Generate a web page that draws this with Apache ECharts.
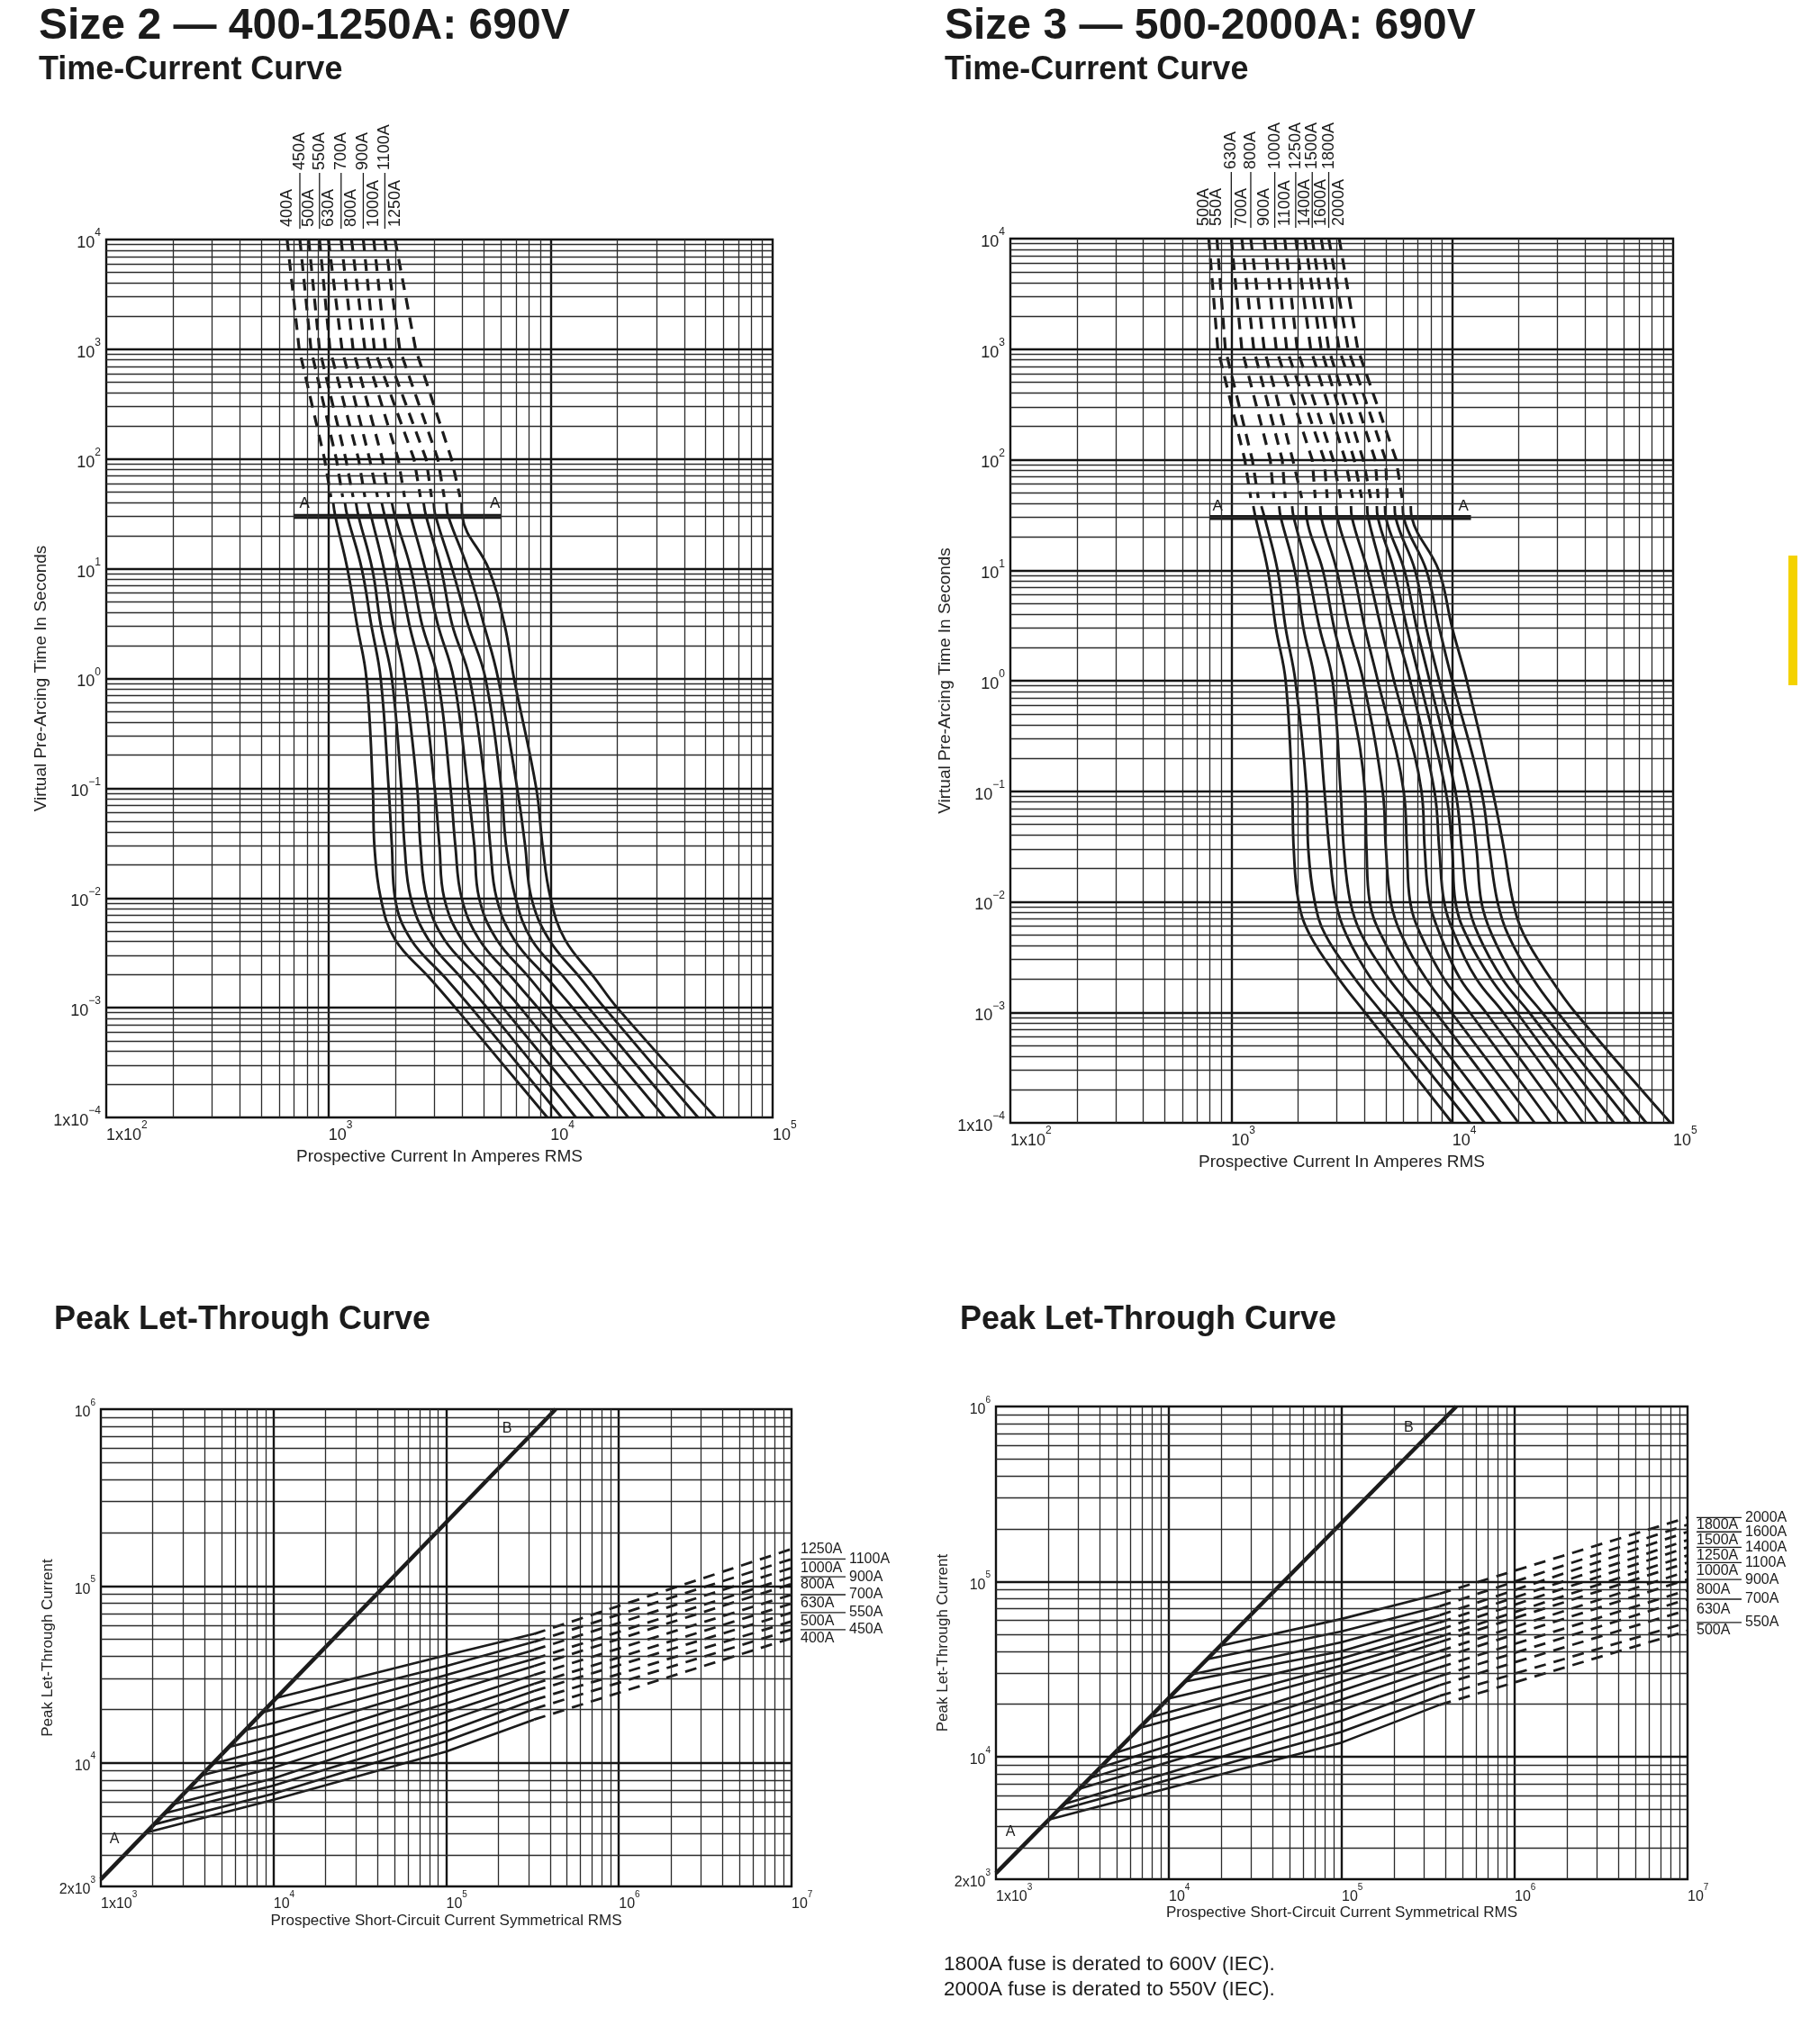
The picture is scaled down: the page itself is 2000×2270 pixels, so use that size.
<!DOCTYPE html>
<html><head><meta charset="utf-8">
<script src="https://cdn.jsdelivr.net/npm/echarts@6.0.0/dist/echarts.min.js"></script>
<style>html,body{margin:0;padding:0;background:#fff;}#chart{width:2000px;height:2270px;}</style>
</head><body><div id="chart"></div>
<script>
// ================= DATA =================
// --- Size 2 time-current curve (current in A at given times in s) ---
const size2Ratings = ['400A','450A','500A','550A','630A','700A','800A','900A','1000A','1100A','1250A'];
const size2LabelTier = [0,1,0,1,0,1,0,1,0,1,0];
const size2DashTimes = [10000, 1000, 100, 45];
const size2DashCurrents = [
  [652, 739, 961, 1027],
  [744, 835, 1086, 1160],
  [815, 912, 1198, 1292],
  [912, 1017, 1367, 1460],
  [1000, 1152, 1533, 1665],
  [1141, 1292, 1750, 1868],
  [1271, 1460, 2062, 2202],
  [1436, 1611, 2430, 2596],
  [1600, 1808, 2754, 2913],
  [1796, 2096, 3110, 3322],
  [1995, 2471, 3584, 3915]
];
const size2SolidTimes = [40, 30, 10, 3.1, 1, 0.1, 0.03, 0.01, 0.0042, 0.00185, 0.001, 0.0001];
const size2SolidCurrents = [
  [1051, 1075, 1218, 1345, 1484, 1585, 1611, 1720, 1995, 2865, 3728, 9677],
  [1187, 1218, 1413, 1559, 1720, 1868, 1931, 1995, 2350, 3378, 4394, 11220],
  [1331, 1367, 1575, 1720, 1931, 2131, 2202, 2350, 2818, 3981, 5179, 13010],
  [1509, 1559, 1778, 1963, 2202, 2512, 2596, 2772, 3322, 4770, 6105, 15590],
  [1738, 1796, 2062, 2313, 2640, 3010, 3162, 3322, 3981, 5623, 7317, 18370],
  [1931, 1995, 2350, 2640, 3110, 3548, 3728, 3981, 4770, 6741, 8770, 22390],
  [2276, 2350, 2727, 3110, 3666, 4250, 4540, 4770, 5715, 8077, 10335, 26380],
  [2683, 2754, 3214, 3607, 4323, 5096, 5355, 5715, 6850, 9677, 12589, 32680],
  [2981, 3040, 3607, 4250, 5096, 6005, 6310, 6960, 8204, 11596, 14840, 38530],
  [3400, 3467, 4250, 5012, 5810, 7079, 7686, 8204, 9837, 13670, 17490, 46150],
  [3981, 4008, 5265, 6208, 6850, 8626, 9210, 10000, 11596, 15849, 19953, 55330]
];
const size2LineA = [[696, 30], [6009, 30]];
const size2LabelA = [[781, 39], [5623, 39]];

// --- Size 3 time-current curve ---
const size3Ratings = ['500A','550A','630A','700A','800A','900A','1000A','1100A','1250A','1400A','1500A','1600A','1800A','2000A'];
const size3LabelTier = [0,0,1,0,1,0,1,0,1,0,1,0,1,0];
const size3DashTimes = [10000, 1000, 100, 45];
const size3DashCurrents = [
  [791, 869, 1151, 1225],
  [861, 940, 1245, 1325],
  [1000, 1116, 1501, 1558],
  [1116, 1264, 1701, 1755],
  [1225, 1410, 1898, 2084],
  [1410, 1598, 2325, 2399],
  [1573, 1782, 2634, 2718],
  [1744, 1988, 2893, 3128],
  [1957, 2289, 3279, 3544],
  [2150, 2553, 3600, 3892],
  [2325, 2761, 3954, 4276],
  [2553, 3080, 4481, 4620],
  [2761, 3382, 4998, 5077],
  [3080, 3737, 5576, 5934]
];
const size3SolidTimes = [38, 30, 10, 3, 1, 0.1, 0.03, 0.01, 0.005, 0.002, 0.001, 0.0001];
const size3SolidCurrents = [
  [1258, 1288, 1464, 1592, 1762, 1885, 1917, 2016, 2269, 3073, 4025, 10000],
  [1368, 1415, 1620, 1762, 1950, 2193, 2231, 2386, 2668, 3637, 4800, 12040],
  [1647, 1675, 1936, 2121, 2386, 2641, 2777, 2971, 3320, 4305, 5750, 14010],
  [1885, 1917, 2216, 2510, 2873, 3125, 3232, 3458, 3890, 5183, 6850, 16580],
  [2179, 2193, 2597, 2921, 3343, 4025, 4093, 4233, 4764, 6237, 8400, 19960],
  [2527, 2553, 3001, 3401, 3958, 4845, 5010, 5271, 5891, 7636, 9900, 23620],
  [2991, 3021, 3552, 4025, 4606, 6030, 6237, 6451, 7211, 9192, 12000, 27970],
  [3481, 3517, 4135, 4764, 5451, 7260, 7507, 7898, 8826, 10880, 14200, 33100],
  [4121, 4163, 4796, 5544, 6451, 8309, 8738, 9192, 10270, 12880, 17000, 39170],
  [4559, 4606, 5451, 6237, 7139, 9348, 10000, 10340, 11560, 14990, 19600, 45600],
  [4961, 5010, 6072, 6902, 7898, 10340, 11060, 11760, 13140, 16870, 22300, 53950],
  [5488, 5544, 6787, 7636, 8738, 11840, 12880, 13550, 15140, 19300, 25500, 63870],
  [5970, 6030, 7636, 8738, 10000, 13550, 14740, 16030, 17920, 23230, 30000, 75590],
  [6495, 6561, 8681, 10000, 11640, 15240, 17150, 18850, 21140, 27970, 36000, 97300]
];
const size3LineA = [[798, 30], [12160, 30]];
const size3LabelA = [[868, 38], [11250, 38]];

// --- Size 2 peak let-through ---
const peak2Ratings = size2Ratings;
const peak2StartCurrent = [1830, 2034, 2338, 2642, 3178, 3813, 4451, 5503, 6829, 8616, 10350];
const peak2StartPeak = [4031, 4485, 5180, 5846, 7039, 8478, 9880, 12290, 15290, 19290, 23230];
const peak2At1e4 = [6180, 6689, 7441, 8168, 9389, 10790, 12120, 14260, 16780, 20010, null];
const peak2At1e5 = [11570, 13300, 14940, 17170, 19290, 21660, 24900, 27970, 31410, 35280, 40550];
const peak2BreakCurrent = 323000;
const peak2AtBreak = [17570, 20200, 22700, 25480, 27970, 31410, 35280, 38720, 43480, 48380, 53580];
const peak2At1e7 = [50690, 56670, 63050, 70820, 79540, 89330, 102700, 112700, 126600, 142100, 161900];
const peak2LineAB = [[1000, 2193], [430500, 1000000]];
const peak2LabelA = [1197, 3707];
const peak2LabelB = [225400, 774000];

// --- Size 3 peak let-through ---
const peak3Ratings = size3Ratings;
const peak3StartCurrent = [2025, 2279, 2480, 3022, 3481, 4008, 4839, 6727, 7751, 9897, 12410, 13630, 16610, 19870];
const peak3StartPeak = [4386, 4935, 5373, 6546, 7541, 8682, 10480, 14570, 16790, 21450, 26880, 29530, 35990, 43050];
const peak3At1e5 = [12070, 13900, 16010, 18440, 21240, 23890, 26880, 30240, 33230, 36510, 40120, 45120, 51950, 61290];
const peak3BreakCurrent = 368000;
const peak3AtBreak = [19790, 22260, 25640, 28850, 32460, 36510, 40120, 45120, 48430, 53210, 58470, 64240, 72270, 85230];
const peak3At1e7 = [52460, 58470, 68950, 79390, 89310, 102900, 114600, 128300, 141100, 157200, 172700, 192400, 211400, 232300];
const peak3LineAB = [[1000, 2163], [460000, 1000000]];
const peak3LabelA = [1214, 3724];
const peak3LabelB = [244000, 760800];

// --- Tick labels ---
const tcXTicks = [100, 1000, 10000, 100000];
const tcYTicks = [0.0001, 0.001, 0.01, 0.1, 1, 10, 100, 1000, 10000];
const pltXTicks = [1000, 10000, 100000, 1000000, 10000000];
const pltYTicks = [2000, 10000, 100000, 1000000];

// ================= BUILD =================
const FONT = '"Liberation Sans", Arial, Helvetica, sans-serif';
const NARROW = '"Liberation Sans Narrow", "Arial Narrow", "Liberation Sans", sans-serif';
const INK = '#1b1b1b';

const grids = [
  {left:118, top:266, width:740, height:975},
  {left:1122, top:265, width:736, height:982},
  {left:112, top:1565, width:767, height:530},
  {left:1106, top:1562, width:768, height:525}
];
const extents = [
  {x:[100, 100000], y:[0.0001, 10000]},
  {x:[100, 100000], y:[0.0001, 10000]},
  {x:[1000, 10000000], y:[2000, 1000000]},
  {x:[1000, 10000000], y:[2000, 1000000]}
];

function supLabel(v, withMantissa) {
  const e = Math.floor(Math.log10(v) + 1e-9);
  const m = Math.round(v / Math.pow(10, e));
  const exp = e < 0 ? '\u2212' + (-e) : String(e);
  const base = (withMantissa || m !== 1) ? m + 'x10' : '10';
  return '{b|' + base + '}{s|' + exp + '}';
}
function rich(size, sup, fam) {
  return {
    b: {fontSize: size, lineHeight: size + 8, verticalAlign: 'bottom', fontFamily: fam, color: '#222'},
    s: {fontSize: sup, verticalAlign: 'top', fontFamily: fam, color: '#222'}
  };
}
function logAxis(gi, ext, ticks, labelOpt, name, nameGap, nameSize, nameFam) {
  return {
    type: 'log', logBase: 10, gridIndex: gi, min: ext[0], max: ext[1],
    axisLine: {show: false}, axisTick: {show: false}, splitLine: {show: false},
    axisLabel: Object.assign({
      customValues: ticks,
      formatter: v => supLabel(v, Math.abs(v - ext[0]) < ext[0] * 1e-6)
    }, labelOpt),
    name: name, nameLocation: 'middle', nameGap: nameGap,
    nameTextStyle: {fontSize: nameSize, fontFamily: nameFam, color: '#222'}
  };
}

const xAxes = [
  logAxis(0, extents[0].x, tcXTicks, {align:'left', margin:3, rich: rich(18, 12, FONT)}, 'Prospective Current In Amperes RMS', 34, 19, FONT),
  logAxis(1, extents[1].x, tcXTicks, {align:'left', margin:3, rich: rich(18, 12, FONT)}, 'Prospective Current In Amperes RMS', 34, 19, FONT),
  logAxis(2, extents[2].x, pltXTicks, {align:'left', margin:4, rich: rich(16, 10, NARROW)}, 'Prospective Short-Circuit Current Symmetrical RMS', 30, 17, NARROW),
  logAxis(3, extents[3].x, pltXTicks, {align:'left', margin:4, rich: rich(16, 10, NARROW)}, 'Prospective Short-Circuit Current Symmetrical RMS', 26, 17, NARROW)
];
const yAxes = [
  logAxis(0, extents[0].y, tcYTicks, {margin:6, rich: rich(18, 12, FONT)}, 'Virtual Pre-Arcing Time In Seconds', 40, 19, FONT),
  logAxis(1, extents[1].y, tcYTicks, {margin:6, rich: rich(18, 12, FONT)}, 'Virtual Pre-Arcing Time In Seconds', 42, 19, FONT),
  logAxis(2, extents[2].y, pltYTicks, {margin:6, rich: rich(16, 10, NARROW)}, 'Peak Let-Through Current', 50, 17, NARROW),
  logAxis(3, extents[3].y, pltYTicks, {margin:6, rich: rich(16, 10, NARROW)}, 'Peak Let-Through Current', 39, 17, NARROW)
];

const series = [];
function logGridValues(min, max) {
  const out = [];
  const d0 = Math.floor(Math.log10(min)), d1 = Math.ceil(Math.log10(max));
  for (let d = d0; d <= d1; d++) {
    for (let k = 1; k <= 9; k++) {
      const v = k * Math.pow(10, d);
      if (v > min * 1.0001 && v < max * 0.9999) out.push({v: v, major: k === 1});
    }
  }
  return out;
}
const majorStyle = {color: '#151515', width: 2.4, type: 'solid'};
const minorStyle = {color: '#2c2c2c', width: 1.3, type: 'solid'};
extents.forEach((ext, gi) => {
  const data = [];
  logGridValues(ext.x[0], ext.x[1]).forEach(o => data.push({xAxis: o.v, lineStyle: o.major ? majorStyle : minorStyle}));
  logGridValues(ext.y[0], ext.y[1]).forEach(o => data.push({yAxis: o.v, lineStyle: o.major ? majorStyle : minorStyle}));
  series.push({
    type: 'line', xAxisIndex: gi, yAxisIndex: gi, data: [[ext.x[0], ext.y[0]]],
    symbol: 'none', showSymbol: false, lineStyle: {opacity: 0}, silent: true, z: 1,
    markLine: {silent: true, precision: 12, symbol: ['none', 'none'], label: {show: false}, animation: false, emphasis: {disabled: true}, data: data}
  });
});

function curve(gi, pts, dashed, width, smooth) {
  series.push({
    type: 'line', xAxisIndex: gi, yAxisIndex: gi, data: pts,
    symbol: 'none', showSymbol: false, smooth: smooth || false, silent: true, z: 3, clip: true,
    lineStyle: {color: INK, width: width, type: dashed ? [13, 9] : 'solid', cap: 'butt', join: 'round'}
  });
}

// time-current curves
size2DashCurrents.forEach(row => curve(0, row.map((c, j) => [c, size2DashTimes[j]]), true, 3.2, false));
size2SolidCurrents.forEach(row => curve(0, row.map((c, j) => [c, size2SolidTimes[j]]), false, 2.9, 0.4));
curve(0, size2LineA, false, 5.5, false);
size3DashCurrents.forEach(row => curve(1, row.map((c, j) => [c, size3DashTimes[j]]), true, 3.2, false));
size3SolidCurrents.forEach(row => curve(1, row.map((c, j) => [c, size3SolidTimes[j]]), false, 2.9, 0.4));
curve(1, size3LineA, false, 5.5, false);

// peak let-through curves
peak2Ratings.forEach((r, i) => {
  const pts = [[peak2StartCurrent[i], peak2StartPeak[i]]];
  if (peak2At1e4[i] != null) pts.push([10000, peak2At1e4[i]]);
  pts.push([100000, peak2At1e5[i]]);
  pts.push([peak2BreakCurrent, peak2AtBreak[i]]);
  curve(2, pts, false, 2.6, false);
  curve(2, [[peak2BreakCurrent, peak2AtBreak[i]], [10000000, peak2At1e7[i]]], true, 2.8, false);
});
curve(2, peak2LineAB, false, 4.5, false);
peak3Ratings.forEach((r, i) => {
  const pts = [[peak3StartCurrent[i], peak3StartPeak[i]], [100000, peak3At1e5[i]], [peak3BreakCurrent, peak3AtBreak[i]]];
  curve(3, pts, false, 2.6, false);
  curve(3, [[peak3BreakCurrent, peak3AtBreak[i]], [10000000, peak3At1e7[i]]], true, 2.8, false);
});
curve(3, peak3LineAB, false, 4.5, false);

const option = {
  animation: false,
  backgroundColor: '#ffffff',
  textStyle: {fontFamily: FONT},
  grid: grids.map(g => Object.assign({show: true, borderColor: '#111', borderWidth: 2.4, backgroundColor: 'rgba(0,0,0,0)', containLabel: false, outerBoundsMode: 'none'}, g)),
  xAxis: xAxes,
  yAxis: yAxes,
  series: series
};

const chart = echarts.init(document.getElementById('chart'), null, {renderer: 'canvas', width: 2000, height: 2270});
chart.setOption(option);

// ================= ANNOTATIONS =================
const gfx = [];
function text(x, y, str, size, opts) {
  gfx.push(Object.assign({
    type: 'text', x: x, y: y, silent: true, z: 100,
    style: Object.assign({text: str, fontSize: size, fontFamily: FONT, fill: '#1b1b1b', align: 'left', verticalAlign: 'middle'}, (opts && opts.style) || {})
  }, (opts && opts.el) || {}));
}
function seg(x1, y1, x2, y2, w) {
  gfx.push({type: 'line', silent: true, z: 100, shape: {x1: x1, y1: y1, x2: x2, y2: y2}, style: {stroke: '#1b1b1b', lineWidth: w || 1.3}});
}
const px = (gi, pt) => chart.convertToPixel({gridIndex: gi}, pt);

// headings
text(43, 30, 'Size 2 \u2014 400-1250A: 690V', 48, {style: {fontWeight: 'bold'}});
text(1049, 30, 'Size 3 \u2014 500-2000A: 690V', 48, {style: {fontWeight: 'bold'}});
text(43, 78, 'Time-Current Curve', 36, {style: {fontWeight: 'bold'}});
text(1049, 78, 'Time-Current Curve', 36, {style: {fontWeight: 'bold'}});
text(60, 1466, 'Peak Let-Through Curve', 36, {style: {fontWeight: 'bold'}});
text(1066, 1466, 'Peak Let-Through Curve', 36, {style: {fontWeight: 'bold'}});
text(1048, 2182, '1800A fuse is derated to 600V (IEC).', 22.5);
text(1048, 2210, '2000A fuse is derated to 550V (IEC).', 22.5);
gfx.push({type: 'rect', silent: true, z: 100, shape: {x: 1986, y: 617, width: 10, height: 144}, style: {fill: '#f4d200'}});

// rating labels above the time-current charts
function columnLabels(gi, ratings, tiers, dashCurrents) {
  const top = grids[gi].top;
  const xs = ratings.map((r, i) => px(gi, [dashCurrents[i][0], 10000])[0]);
  // keep neighbouring labels of the same row legible
  [0, 1].forEach(t => {
    const idx = ratings.map((r, i) => i).filter(i => tiers[i] === t);
    for (let k = idx.length - 2; k >= 0; k--) {
      const a = idx[k], b = idx[k + 1];
      if (xs[b] - xs[a] < 14) xs[a] = xs[b] - 14;
    }
  });
  ratings.forEach((r, i) => {
    if (tiers[i] === 0) {
      text(xs[i], top - 14, r, 18, {el: {rotation: Math.PI / 2}, style: {fontFamily: NARROW}});
    } else {
      seg(xs[i], top - 12, xs[i], top - 74, 1.3);
      text(xs[i], top - 77, r, 18, {el: {rotation: Math.PI / 2}, style: {fontFamily: NARROW}});
    }
  });
}
columnLabels(0, size2Ratings, size2LabelTier, size2DashCurrents);
columnLabels(1, size3Ratings, size3LabelTier, size3DashCurrents);

// "A" markers on the time-current charts
[[0, size2LabelA], [1, size3LabelA]].forEach(([gi, arr]) => arr.forEach(pt => {
  const p = px(gi, pt);
  text(p[0], p[1], 'A', 17, {style: {align: 'center'}});
}));

// legends of peak let-through charts
function sideLegend(gi, ratings, endPeaks) {
  const right = grids[gi].left + grids[gi].width;
  ratings.forEach((r, i) => {
    const p = px(gi, [10000000, endPeaks[i]]);
    if (i % 2 === 0) {
      text(right + 10, p[1], r, 16, {style: {fontFamily: NARROW}});
    } else {
      seg(right + 10, p[1], right + 60, p[1], 1.3);
      text(right + 64, p[1], r, 16, {style: {fontFamily: NARROW}});
    }
  });
}
sideLegend(2, peak2Ratings, peak2At1e7);
sideLegend(3, peak3Ratings, peak3At1e7);

[[2, peak2LabelA, 'A'], [2, peak2LabelB, 'B'], [3, peak3LabelA, 'A'], [3, peak3LabelB, 'B']].forEach(([gi, pt, s]) => {
  const p = px(gi, pt);
  text(p[0], p[1], s, 16, {style: {align: 'center', fontFamily: NARROW}});
});

chart.setOption({graphic: {elements: gfx}});
</script></body></html>
